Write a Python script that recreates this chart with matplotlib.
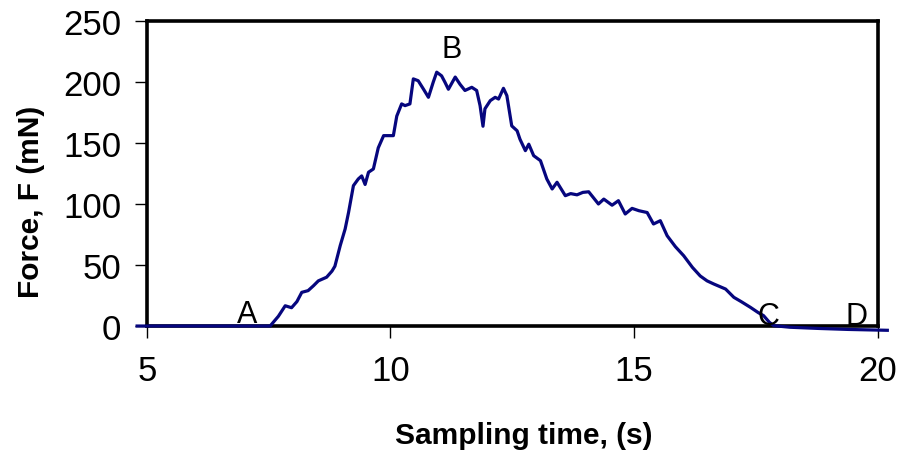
import matplotlib
matplotlib.use('Agg')
import matplotlib.pyplot as plt

plt.rcParams['font.family'] = ['Liberation Sans', 'DejaVu Sans']

# sampling time (s) and force (mN)
time_s = [4.8, 5.5, 6.5, 7.3, 7.53, 7.7, 7.84, 7.97, 8.08, 8.18, 8.31, 8.42, 8.52,
          8.69, 8.8, 8.86, 8.97, 9.07, 9.14, 9.24, 9.34, 9.41, 9.48, 9.55, 9.65,
          9.75, 9.86, 9.96, 10.06, 10.13, 10.23, 10.3, 10.4, 10.47, 10.57, 10.68,
          10.78, 10.88, 10.95, 11.05, 11.12, 11.19, 11.33, 11.43, 11.53, 11.67,
          11.77, 11.84, 11.9, 11.94, 12.05, 12.15, 12.22, 12.32, 12.39, 12.49,
          12.6, 12.66, 12.77, 12.84, 12.94, 13.08, 13.21, 13.32, 13.42, 13.59,
          13.7, 13.83, 13.95, 14.07, 14.27, 14.38, 14.55, 14.68, 14.82, 14.96, 15.1,
          15.27, 15.4, 15.54, 15.68, 15.85, 16.02, 16.2, 16.36, 16.5, 16.64, 16.88,
          17.05, 17.2, 17.39, 17.55, 17.66, 17.78, 17.87, 18.2, 18.8, 19.4, 20.2]
force_mN = [0, 0, 0, 0, 0, 8, 16.6, 15, 20, 27.6, 29, 33, 37,
            40, 45, 49, 66, 79.5, 93, 115, 120.5, 123, 116, 126, 128.7,
            146, 156, 156, 156, 172, 182, 180.6, 182, 202.5, 201, 194,
            187.4, 200, 208, 205, 199.7, 194, 204, 198, 193, 195.6,
            193, 180.6, 163.7, 178, 184.7, 187.4, 186, 194.8, 188.8, 164,
            160, 153, 143.7, 149, 139.6, 135.5, 120.5, 112.3, 117.8, 106.8,
            108.5, 107.5, 109.5, 110, 100, 104, 99, 102.7, 91.8, 96.4, 94.5,
            93, 83.6, 86.3, 74, 65, 57.6, 48, 41, 37, 34.4, 30.3,
            23.5, 20, 15.3, 11, 8.5, 3, 0.3, -1, -2, -2.8, -3.5]

# point labels: (text, time, force)
labels = ['A', 'B', 'C', 'D']
label_t = [7.06, 11.25, 17.76, 19.57]
label_f = [3.3, 220.5, 1.6, 1.6]

fig = plt.figure(figsize=(9.01, 4.52), dpi=100)
ax = fig.add_axes([0.163, 0.2765, 0.811, 0.675])

ax.plot(time_s, force_mN, color='#06067e', lw=2.3, clip_on=False, zorder=3)

for txt, t, f in zip(labels, label_t, label_f):
    ax.text(t, f, txt, fontsize=22, ha='center', va='baseline', zorder=4)

ax.set_xlim(5, 20)
ax.set_ylim(0, 250)
ax.set_xticks([5, 10, 15, 20])
ax.set_yticks([0, 50, 100, 150, 200, 250])

for s in ax.spines.values():
    s.set_linewidth(2.6)
ax.tick_params(axis='both', direction='out', length=8.5, width=1.0, labelsize=25)
ax.tick_params(axis='x', pad=12)
ax.tick_params(axis='y', pad=10)

ax.set_xlabel('Sampling time, (s)', fontsize=21.5, fontweight='bold')
ax.set_ylabel('Force, F (mN)', fontsize=21.5, fontweight='bold')
ax.xaxis.set_label_coords(0.516, -0.31)
ax.yaxis.set_label_coords(-0.14, 0.41)

fig.savefig('out.png', dpi=100)
